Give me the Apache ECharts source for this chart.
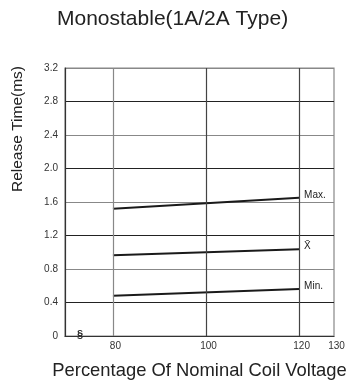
<!DOCTYPE html>
<html><head><meta charset="utf-8">
<script src="https://cdn.jsdelivr.net/npm/echarts@6/dist/echarts.min.js"></script>
<style>html,body{margin:0;padding:0;background:#fff}#c{width:351px;height:385px}</style>
</head><body><div id="c"></div>
<script>
var titleText = 'Monostable(1A/2A Type)';
var yName = 'Release Time(ms)';
var xName = 'Percentage Of Nominal Coil Voltage';
var xCategories = [80, 120];
var maxValues = [1.52, 1.65];
var meanValues = [0.965, 1.035];
var minValues = [0.48, 0.56];
var seriesNames = ['Max.', 'X\u0304', 'Min.'];
var yTicks = [0, 0.4, 0.8, 1.2, 1.6, 2.0, 2.4, 2.8, 3.2];
var yTickLabels = ['0', '0.4', '0.8', '1.2', '1.6', '2.0', '2.4', '2.8', '3.2'];
var xGridValues = [80, 100, 120];
var xTickValues = [80, 100, 120, 127.5];
var xTickLabels = ['80', '100', '120', '130'];
var xMin = 69.7, xMax = 127.5;

var font = 'Liberation Sans, Arial, sans-serif';
var chart = echarts.init(document.getElementById('c'), null, {renderer: 'canvas'});

function mk(vals) { return vals.map(function (v, i) { return [xCategories[i], v]; }); }
var allSeries = [maxValues, meanValues, minValues].map(function (vals, k) {
  return {
    type: 'line', name: seriesNames[k], data: mk(vals), symbol: 'none',
    lineStyle: {color: '#1a1a1a', width: 2}, silent: true,
    endLabel: {show: true, formatter: seriesNames[k], color: '#222', fontSize: 10, fontFamily: font, offset: [-3, -3]}
  };
});
allSeries.push({
  type: 'line', data: [], silent: true,
  markLine: {
    symbol: 'none', silent: true, label: {show: false},
    data: xGridValues.map(function (v, i) {
      return {xAxis: v, lineStyle: {color: i === 0 ? '#888' : '#444', width: 1.2, type: 'solid'}};
    })
  }
});

chart.setOption({
  animation: false,
  title: {text: titleText, left: 52, top: 4, textStyle: {fontFamily: font, fontSize: 21, fontWeight: 'normal', color: '#222'}},
  grid: {left: 65, right: 17, top: 68, bottom: 49, show: true, borderColor: '#888', borderWidth: 1.2},
  xAxis: {
    type: 'value', min: xMin, max: xMax,
    name: xName, nameLocation: 'middle', nameGap: 26,
    nameTextStyle: {fontFamily: font, fontSize: 18.4, color: '#222'},
    axisLine: {show: true, lineStyle: {color: '#333', width: 1.2}},
    axisTick: {show: false},
    splitLine: {show: false},
    axisLabel: {
      customValues: xTickValues, fontFamily: font, fontSize: 10, color: '#333', margin: 5,
      padding: [0, 0, 0, 5],
      formatter: function (v) { var i = xTickValues.indexOf(v); return i >= 0 ? xTickLabels[i] : ''; }
    }
  },
  yAxis: {
    type: 'value', min: 0, max: 3.2, interval: 0.4,
    axisLine: {show: true, lineStyle: {color: '#333', width: 1.2}},
    axisTick: {show: false},
    splitLine: {show: true, lineStyle: {color: ['#888', '#222'], width: 1}},
    axisLabel: {
      fontFamily: font, fontSize: 10, color: '#333', margin: 7,
      formatter: function (v) {
        for (var i = 0; i < yTicks.length; i++) { if (Math.abs(yTicks[i] - v) < 1e-6) return yTickLabels[i]; }
        return '';
      }
    }
  },
  graphic: [
    {type: 'text', x: 18, y: 129, rotation: Math.PI / 2,
     style: {text: yName, fontFamily: font, fontSize: 15.5, fill: '#222', textAlign: 'center', textVerticalAlign: 'middle'}},
    {type: 'text', x: 80, y: 335,
     style: {text: '\u00A7', fontFamily: font, fontSize: 11, fontWeight: 'bold', fill: '#222', textAlign: 'center', textVerticalAlign: 'middle'}}
  ],
  series: allSeries
});
</script></body></html>
